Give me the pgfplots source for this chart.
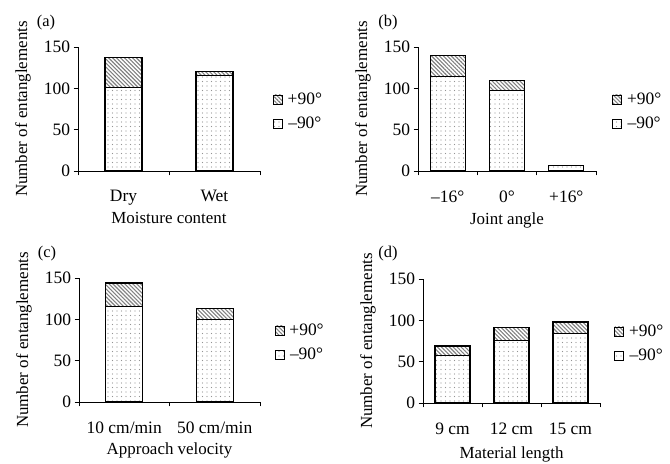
\documentclass[border=0pt]{standalone}
\usepackage{fontspec}
\setmainfont{Liberation Serif}
\usepackage{pgfplots}
\pgfplotsset{compat=1.18}
\usetikzlibrary{patterns.meta}
\pgfplotsset{
  panel/.style={
    scale only axis, height=124bp,
    axis x line*=bottom, axis y line*=left,
    axis line style={line width=0.9bp},
    ymin=0, ymax=150, ytick={0,50,100,150},
    xmin=0.5,
    ybar stacked,
    tick align=outside, major tick length=4.5bp,
    tick style={black, line width=0.9bp},
    xticklabels={},
    extra x tick style={major tick length=0pt, tick style={draw=none}},
    tick label style={font=\fontsize{17.5}{18}\selectfont},
    xticklabel style={yshift=-16bp},
    label style={font=\fontsize{17}{18}\selectfont},
    ylabel={Number of entanglements},
    ylabel style={at={(axis description cs:0,0.5)}, anchor=center, yshift=55bp},
    /pgf/number format/assume math mode=true,
    reverse legend,
    legend style={draw=none, fill=none, anchor=west, font=\fontsize{17.5}{18}\selectfont,
      row sep=7bp, inner sep=0pt, /tikz/every odd column/.append style={column sep=3bp}},
    legend image code/.code={\draw[#1, line width=0.8bp] (0bp,-4.5bp) rectangle (9bp,4.5bp);},
  },
  minus/.style={draw=black, line width=1.1bp, pattern={Dots[distance=4.5bp, radius=0.6bp]}, pattern color=gray!85},
  plus/.style={draw=black, line width=1.1bp, pattern={Lines[angle=-45, distance=2.8bp, line width=1.1bp]}, pattern color=black!50},
}
\begin{document}
\begin{tikzpicture}
\path[use as bounding box] (0,0) rectangle (670bp,464bp);
% (a)
\begin{axis}[panel, at={(78bp,293bp)}, anchor=south west, width=182bp,
  xmax=2.5, xtick={0.5,1.5,2.5}, bar width=37bp,
  extra x ticks={1,2}, extra x tick labels={Dry,Wet},
  xlabel={Moisture content},
  xlabel style={at={(axis description cs:0.5,0)}, anchor=center, yshift=-47bp},
  legend style={at={(axis description cs:1.07,0.48)}}]
\addplot[minus] coordinates {(1,101) (2,115)};
\addplot[plus] coordinates {(1,36) (2,5)};
\legend{–90°,+90°}
\end{axis}
\node[font=\fontsize{16.5}{17}\selectfont] at (46bp,441bp) {(a)};
% (b)
\begin{axis}[panel, at={(418bp,293bp)}, anchor=south west, width=178bp,
  xmax=3.5, xtick={0.5,1.5,2.5,3.5}, bar width=35bp,
  extra x ticks={1,2,3}, extra x tick labels={–16°,0°,+16°},
  xlabel={Joint angle},
  xlabel style={at={(axis description cs:0.5,0)}, anchor=center, yshift=-49bp},
  legend style={at={(axis description cs:1.09,0.48)}}]
\addplot[minus] coordinates {(1,114) (2,97) (3,7)};
\addplot[plus] coordinates {(1,26) (2,13) (3,0)};
\legend{–90°,+90°}
\end{axis}
\node[font=\fontsize{16.5}{17}\selectfont] at (388bp,441bp) {(b)};
% (c)
\begin{axis}[panel, at={(79bp,62bp)}, anchor=south west, width=181bp,
  xmax=2.5, xtick={0.5,1.5,2.5}, bar width=37bp,
  extra x ticks={1,2}, extra x tick labels={10 cm/min,50 cm/min},
  xlabel={Approach velocity},
  xlabel style={at={(axis description cs:0.5,0)}, anchor=center, yshift=-48bp},
  legend style={at={(axis description cs:1.08,0.48)}}]
\addplot[minus] coordinates {(1,115) (2,100)};
\addplot[plus] coordinates {(1,29) (2,13)};
\legend{–90°,+90°}
\end{axis}
\node[font=\fontsize{16.5}{17}\selectfont] at (47bp,210bp) {(c)};
% (d)
\begin{axis}[panel, at={(423bp,61bp)}, anchor=south west, width=177bp,
  xmax=3.5, xtick={0.5,1.5,2.5,3.5}, bar width=35bp,
  extra x ticks={1,2,3}, extra x tick labels={9 cm,12 cm,15 cm},
  xlabel={Material length},
  xlabel style={at={(axis description cs:0.5,0)}, anchor=center, yshift=-51bp},
  legend style={at={(axis description cs:1.08,0.48)}}]
\addplot[minus] coordinates {(1,57) (2,76) (3,84)};
\addplot[plus] coordinates {(1,12) (2,15) (3,14)};
\legend{–90°,+90°}
\end{axis}
\node[font=\fontsize{16.5}{17}\selectfont] at (388bp,210bp) {(d)};
\end{tikzpicture}
\end{document}
